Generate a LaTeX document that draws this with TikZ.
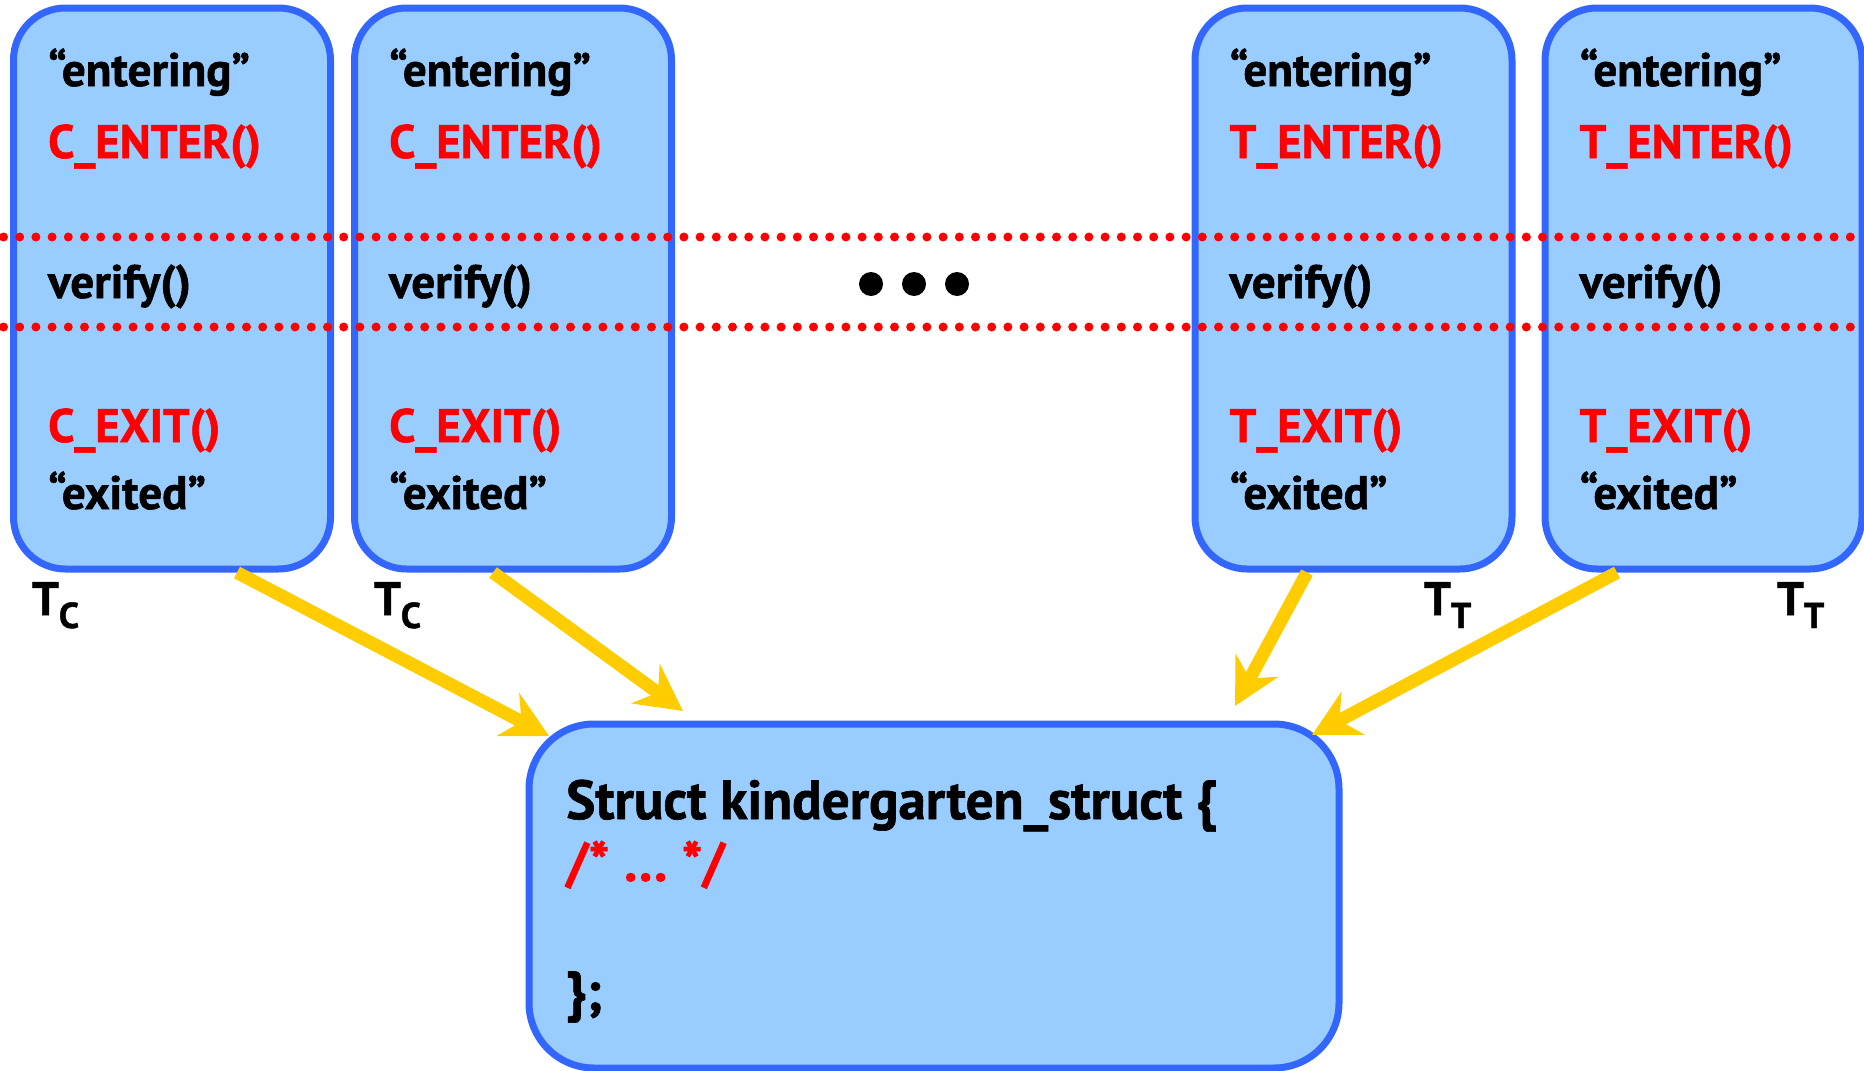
\documentclass[tikz,border=0pt]{standalone}
\usepackage{fontspec}
\setmainfont{PT Sans}[BoldFeatures={FakeBold=1.2}]
\usetikzlibrary{arrows.meta}
\definecolor{boxfill}{HTML}{99CCFF}
\definecolor{boxline}{HTML}{3366FF}
\definecolor{arrowgold}{HTML}{FFCC00}
\definecolor{codered}{HTML}{FF0000}
\tikzset{
  thread/.style={draw=boxline, fill=boxfill, line width=7pt, rounded corners=52pt,
    minimum width=317pt, minimum height=561pt, inner sep=0pt},
  shared/.style={draw=boxline, fill=boxfill, line width=7pt, rounded corners=65pt,
    minimum width=810pt, minimum height=344pt, inner sep=0pt},
  txt/.style={anchor=base west, inner sep=0pt, font=\fontsize{47}{47}\selectfont\bfseries},
  redtxt/.style={txt, text=codered},
  bigtxt/.style={anchor=base west, inner sep=0pt, font=\fontsize{55}{55}\selectfont\bfseries},
  feed/.style={draw=arrowgold, line width=13pt, -{Stealth[length=46pt,width=48pt,inset=15pt]}},
  sep/.style={draw=codered, line width=9pt, line cap=round, dash pattern=on 0pt off 16.2pt},
  ellip/.style={circle, fill=black, minimum size=24pt, inner sep=0pt},
}
\newcommand{\thr}[1]{T\raisebox{-13pt}{\fontsize{36}{36}\selectfont #1}}
\begin{document}
\begin{tikzpicture}[x=1pt,y=-1pt]
\useasboundingbox (0,0) rectangle (1864,1071);

% end points of the feeding arrows
\coordinate (t1) at (549,736);
\coordinate (t2) at (683,711);
\coordinate (t3) at (1235,706);
\coordinate (t4) at (1312,735);

% thread boxes
\foreach \n/\cx in {b1/172, b2/513, b3/1353.5, b4/1703.5}
  \node[thread] (\n) at (\cx,288.5) {};

% shared structure
\node[shared] (sb) at (934,896) {};

% arrows from threads to the structure
\draw[feed] ([xshift=65pt]b1.south) -- (t1);
\draw[feed] ([xshift=-20pt]b2.south) -- (t2);
\draw[feed] ([xshift=-46.5pt]b3.south) -- (t3);
\draw[feed] ([xshift=-86.5pt]b4.south) -- (t4);

% critical section boundaries
\draw[sep] (3.5,237) -- (1864,237);
\draw[sep] (3.5,327) -- (1864,327);

% box contents
\foreach \n/\cx/\p in {b1/172/C, b2/513/C, b3/1353.5/T, b4/1703.5/T} {
  \node[txt] (\n-in) at (\cx-124,86) {“entering”};
  \node[redtxt] (\n-enter) at (\cx-124,158) {\p\_ENTER()};
  \node[txt] (\n-ver) at (\cx-124,298) {verify()};
  \node[redtxt] (\n-exit) at (\cx-124,442) {\p\_EXIT()};
  \node[txt] (\n-out) at (\cx-124,509) {“exited”};
}

% thread labels
\node[txt] (l1) at (32,615) {\thr{C}};
\node[txt] (l2) at (374,615) {\thr{C}};
\node[txt] (l3) at (1424,615) {\thr{T}};
\node[txt] (l4) at (1777,615) {\thr{T}};

% ellipsis
\node[ellip] (e1) at (871,284) {};
\node[ellip] (e2) at (914,284) {};
\node[ellip] (e3) at (957,284) {};

% structure text
\node[bigtxt] (s1) at (566,819) {Struct kindergarten\_struct \{};
\node[bigtxt, text=codered] (s2) at (566,881) {/* \dots{} */};
\node[bigtxt] (s3) at (566,1010) {\};};
\end{tikzpicture}
\end{document}
